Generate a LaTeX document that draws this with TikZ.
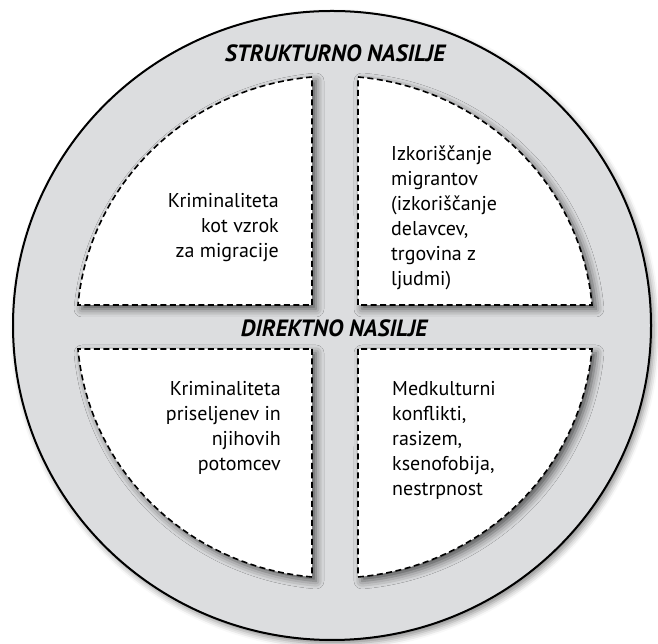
\documentclass[tikz,border=0pt]{standalone}
\usepackage{fontspec}
\setmainfont{PT Sans}
\usetikzlibrary{shadows.blur}
\definecolor{ringgrey}{HTML}{DCDDDF}
\begin{document}
\begin{tikzpicture}[x=1pt,y=1pt,
  quad/.style={fill=white, draw=black, line width=1.6pt, dash pattern=on 6pt off 3.5pt,
    blur shadow={shadow xshift=4pt, shadow yshift=-4pt, shadow blur radius=8pt, shadow opacity=65}},
  body/.style={font=\fontsize{20}{25}\selectfont, inner sep=0pt},
  ttl/.style={font=\fontsize{23.5}{25}\selectfont\bfseries\itshape, inner sep=0pt}]
\useasboundingbox (0,0) rectangle (658,644);
\path[fill=ringgrey, draw=black, line width=2pt,
  blur shadow={shadow xshift=3pt, shadow yshift=-4pt, shadow blur radius=6pt, shadow opacity=45}]
  (332,318.5) ellipse [x radius=319, y radius=314.5];
\begin{scope}[shift={(335,317)}]
  \path[quad] (-23,22) -- (95.11:258 and 251) arc[start angle=95.11, end angle=174.97, x radius=258, y radius=251] -- cycle;
  \path[quad] (23,22) -- (84.89:258 and 251) arc[start angle=84.89, end angle=5.03, x radius=258, y radius=251] -- cycle;
  \path[quad] (-23,-22) -- (264.89:258 and 251) arc[start angle=264.89, end angle=185.03, x radius=258, y radius=251] -- cycle;
  \path[quad] (23,-22) -- (275.11:258 and 251) arc[start angle=275.11, end angle=354.97, x radius=258, y radius=251] -- cycle;
\end{scope}
\node[ttl, anchor=base] (t1) at (335,582) {STRUKTURNO NASILJE};
\node[ttl, anchor=base] (t2) at (334,307) {DIREKTNO NASILJE};
\node[body, anchor=base east, align=right] (q1) at (279,386) {Kriminaliteta\\kot vzrok\\za migracije};
\node[body, anchor=base west, align=left] (q2) at (391,358) {Izkoriščanje\\migrantov\\(izkoriščanje\\delavcev,\\trgovina z\\ljudmi)};
\node[body, anchor=base east, align=right] (q3) at (281,173) {Kriminaliteta\\priseljenev in\\njihovih\\potomcev};
\node[body, anchor=base west, align=left] (q4) at (392,148) {Medkulturni\\konflikti,\\rasizem,\\ksenofobija,\\nestrpnost};
\end{tikzpicture}
\end{document}
